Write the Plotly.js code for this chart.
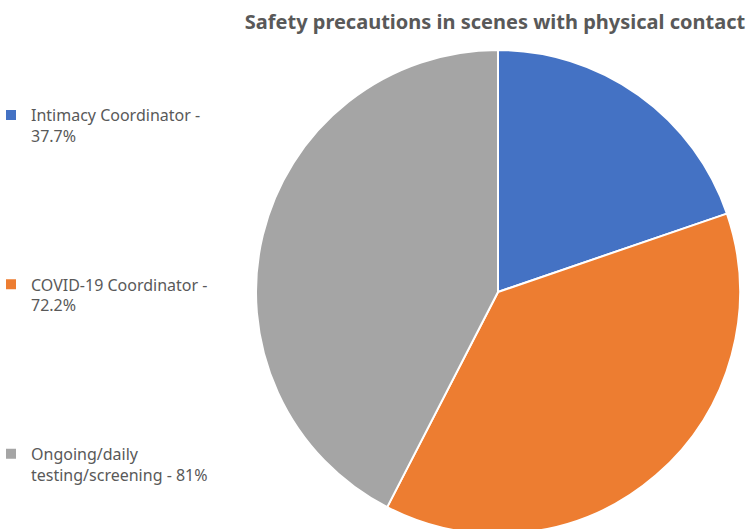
<!DOCTYPE html>
<html>
<head>
<meta charset="utf-8">
<script src="https://cdn.plot.ly/plotly-3.0.1.min.js"></script>
<style>html,body{margin:0;padding:0;overflow:hidden;background:#fff}</style>
</head>
<body>
<div id="chart" style="width:747px;height:534px"></div>
<script>
const categories = ["Intimacy Coordinator -<br>", "COVID-19 Coordinator -<br>", "Ongoing/daily<br>testing/screening - "];
const values = [37.7, 72.2, 81];
const colors = ["#4472C4", "#ED7D31", "#A5A5A5"];
const pad = "<br> <br> <br> <br> <br> <br> ";

const labels = categories.map((c, i) => c + values[i] + "%" + (i < categories.length - 1 ? pad : ""));

const W = 747, H = 534;

Plotly.newPlot("chart", [{
  type: "pie",
  labels: labels,
  values: values,
  sort: false,
  direction: "clockwise",
  rotation: 0,
  textinfo: "none",
  hoverinfo: "label+value",
  marker: {colors: colors, line: {color: "#ffffff", width: 2}},
  domain: {x: [256/W, 740/W], y: [0, 1 - 50/H]}
}], {
  width: W,
  height: H,
  margin: {l: 0, r: 0, t: 0, b: 0, autoexpand: false},
  paper_bgcolor: "#ffffff",
  font: {family: "Noto Sans, sans-serif", color: "#595959"},
  title: {
    text: "<b>Safety precautions in scenes with physical contact</b>",
    font: {size: 20, color: "#595959", family: "Noto Sans, sans-serif"},
    x: 495/W, xanchor: "center", xref: "paper",
    y: 1 - 22/H, yanchor: "middle", yref: "container"
  },
  showlegend: true,
  legend: {
    x: -9/W, xanchor: "left",
    y: 1 - 98/H, yanchor: "top",
    valign: "top",
    itemwidth: 30,
    font: {size: 16, color: "#595959", family: "Noto Sans, sans-serif"},
    bgcolor: "rgba(0,0,0,0)"
  }
}, {displayModeBar: false, staticPlot: true});
</script>
</body>
</html>
